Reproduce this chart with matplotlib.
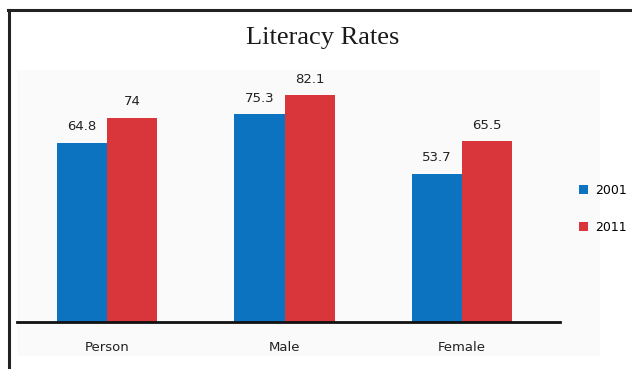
import matplotlib
matplotlib.use("Agg")
import matplotlib.pyplot as plt
from matplotlib.lines import Line2D
from matplotlib.patches import Rectangle
import numpy as np

categories = ["Person", "Male", "Female"]
years = ["2001", "2011"]
rates_2001 = [64.8, 75.3, 53.7]
rates_2011 = [74.0, 82.1, 65.5]
labels_2001 = ["64.8", "75.3", "53.7"]
labels_2011 = ["74", "82.1", "65.5"]

W, H = 632, 369
fig = plt.figure(figsize=(W / 100, H / 100), dpi=100)
fig.patch.set_facecolor("white")

def px(x0, y0, x1, y1):
    return [x0 / W, 1 - y1 / H, (x1 - x0) / W, (y1 - y0) / H]

# faint backdrop behind the plotting region
fig.patches.append(Rectangle((17 / W, 1 - 356 / H), (600 - 17) / W, (356 - 70) / H,
                             transform=fig.transFigure, facecolor="#fafafa",
                             edgecolor="none", zorder=-5))

ax = fig.add_axes(px(17, 70, 560, 322))
ax.set_facecolor("none")
ax.set_zorder(2)

blue = "#0b73bf"
red = "#d9363c"
x = np.arange(len(categories))
w = 0.283
b1 = ax.bar(x - w / 2, rates_2001, w, color=blue, label=years[0], zorder=2)
b2 = ax.bar(x + w / 2, rates_2011, w, color=red, label=years[1], zorder=2)

for bars, labs in ((b1, labels_2001), (b2, labels_2011)):
    for rect, lab in zip(bars, labs):
        ax.text(rect.get_x() + rect.get_width() / 2, rect.get_height() + 3.5, lab,
                ha="center", va="bottom", fontsize=9.5, color="#222222",
                family="DejaVu Sans")

ax.set_xlim(-0.507, 2.552)
ax.set_ylim(0, 91.3)
for s in ("top", "right", "left"):
    ax.spines[s].set_visible(False)
ax.spines["bottom"].set_linewidth(2)
ax.spines["bottom"].set_color("#111111")
ax.set_yticks([])
ax.set_xticks(x)
ax.set_xticklabels(categories, fontsize=9.5, color="#222222")
ax.tick_params(axis="x", length=0, pad=14)

leg = fig.legend(handles=[b1, b2], labels=years, loc="center left",
                 bbox_to_anchor=(568 / W, 1 - 209 / H), frameon=False,
                 fontsize=9, handlelength=0.7, handleheight=0.7,
                 labelspacing=1.9, handletextpad=0.6)
leg.set_zorder(3)

fig.text(323 / W, 1 - 38 / H, "Literacy Rates", ha="center", va="center",
         fontsize=19, family="Liberation Serif", color="#1a1a1a")

# outer frame: top and left edges
fig.add_artist(Line2D([8 / W, 1], [1 - 10 / H, 1 - 10 / H], transform=fig.transFigure,
                      color="#222222", lw=2.2))
fig.add_artist(Line2D([9 / W, 9 / W], [0, 1 - 10 / H], transform=fig.transFigure,
                      color="#222222", lw=2.2))

fig.savefig("out.png", dpi=100, facecolor="white")
